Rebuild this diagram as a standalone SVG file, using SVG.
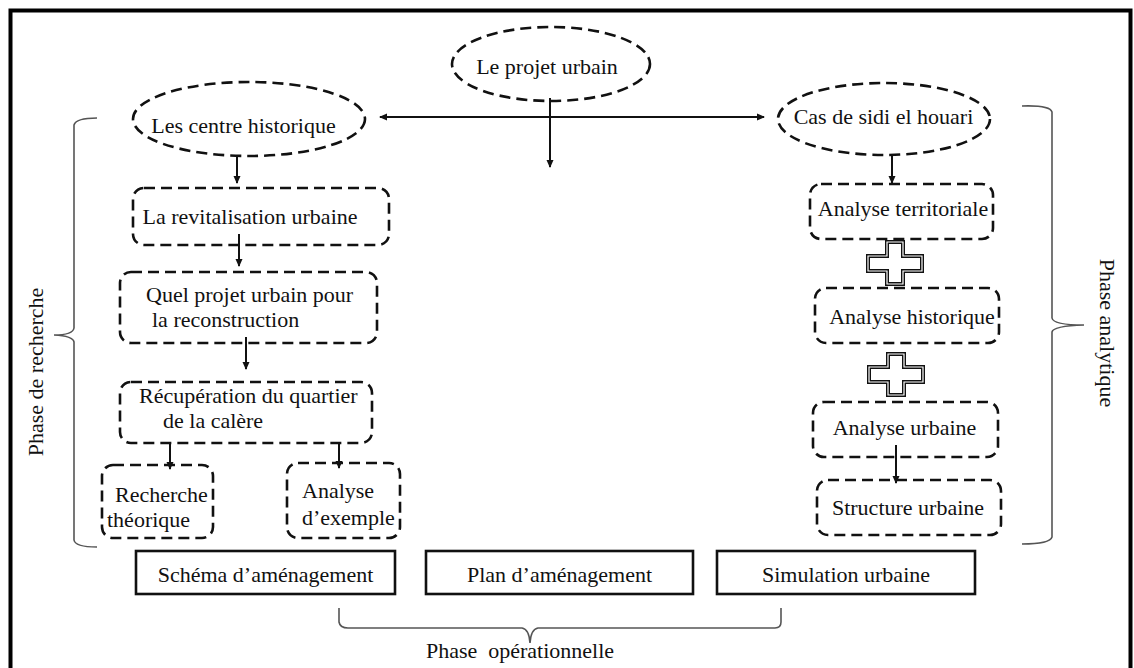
<svg xmlns="http://www.w3.org/2000/svg" width="1134" height="668" viewBox="0 0 1134 668">
<style>
text{font-family:"Liberation Serif","Times New Roman",serif;font-size:22px;fill:#111;}
.dash{fill:none;stroke:#111;stroke-width:2.6;stroke-dasharray:11 6;}
.box{fill:#fff;stroke:#111;stroke-width:2.6;}
.brace{fill:none;stroke:#555;stroke-width:1.6;}
.conn{fill:none;stroke:#111;stroke-width:2;}
.plusOut{fill:#fff;stroke:#111;stroke-width:4;}
.plusIn{fill:none;stroke:#fff;stroke-width:1.2;}
</style>
<defs>
<marker id="ah" markerWidth="8" markerHeight="8" refX="7" refY="4" orient="auto-start-reverse" markerUnits="userSpaceOnUse">
<path d="M0,0.5 L8,4 L0,7.5 Z" fill="#111"/>
</marker>
</defs>
<rect x="0" y="0" width="1134" height="668" fill="#fff"/>
<rect x="10.5" y="10.5" width="1120" height="700" fill="none" stroke="#000" stroke-width="4"/>

<g id="connectors">
<line class="conn" x1="380" y1="117" x2="764" y2="117" marker-start="url(#ah)" marker-end="url(#ah)"/>
<line class="conn" x1="550" y1="98" x2="550" y2="167" marker-end="url(#ah)"/>
<line class="conn" x1="237" y1="157" x2="237" y2="183" marker-end="url(#ah)"/>
<line class="conn" x1="239" y1="234" x2="239" y2="266" marker-end="url(#ah)"/>
<line class="conn" x1="246" y1="337" x2="246" y2="369" marker-end="url(#ah)"/>
<line class="conn" x1="170" y1="443" x2="170" y2="469" marker-end="url(#ah)"/>
<line class="conn" x1="339" y1="443" x2="339" y2="468" marker-end="url(#ah)"/>
<line class="conn" x1="892" y1="155" x2="892" y2="183" marker-end="url(#ah)"/>
<line class="conn" x1="896" y1="445" x2="896" y2="483" marker-end="url(#ah)"/>
</g>

<g id="n-projet">
<ellipse class="dash" cx="551" cy="64" rx="99" ry="37"/>
<text x="547" y="74" text-anchor="middle">Le projet urbain</text>
</g>
<g id="n-centre">
<ellipse class="dash" cx="249" cy="119" rx="116" ry="37"/>
<text x="243.5" y="133" text-anchor="middle">Les centre historique</text>
</g>
<g id="n-cas">
<ellipse class="dash" cx="884" cy="119" rx="106" ry="36"/>
<text x="883.5" y="124" text-anchor="middle">Cas de sidi el houari</text>
</g>

<g id="n-revit">
<rect class="dash" x="133" y="188" width="256" height="57" rx="11"/>
<text x="250" y="224" text-anchor="middle">La revitalisation urbaine</text>
</g>
<g id="n-quel">
<rect class="dash" x="120" y="272" width="257" height="71" rx="11"/>
<text x="146" y="302">Quel projet urbain pour</text>
<text x="152" y="327">la reconstruction</text>
</g>
<g id="n-recup">
<rect class="dash" x="120" y="382" width="252" height="61" rx="11"/>
<text x="139" y="403">Récupération du quartier</text>
<text x="163" y="428">de la calère</text>
</g>
<g id="n-recherche">
<rect class="dash" x="102" y="465" width="111" height="73" rx="11"/>
<text x="115" y="502">Recherche</text>
<text x="107" y="527">théorique</text>
</g>
<g id="n-exemple">
<rect class="dash" x="287" y="463" width="113" height="75" rx="11"/>
<text x="302" y="498">Analyse</text>
<text x="302" y="525">d’exemple</text>
</g>

<g id="n-territ">
<rect class="dash" x="810" y="184" width="183" height="55" rx="11"/>
<text x="903" y="216" text-anchor="middle">Analyse territoriale</text>
</g>
<g id="plus1">
<path class="plusOut" d="M887,242 H903 V256 H922 V271 H903 V284 H887 V271 H868 V256 H887 Z"/>
<path class="plusIn" d="M887,242 H903 V256 H922 V271 H903 V284 H887 V271 H868 V256 H887 Z"/>
</g>
<g id="n-hist">
<rect class="dash" x="815" y="288" width="184" height="55" rx="11"/>
<text x="912" y="324" text-anchor="middle">Analyse historique</text>
</g>
<g id="plus2">
<path class="plusOut" d="M888,354 H904 V367 H923 V382 H904 V395 H888 V382 H869 V367 H888 Z"/>
<path class="plusIn" d="M888,354 H904 V367 H923 V382 H904 V395 H888 V382 H869 V367 H888 Z"/>
</g>
<g id="n-urb">
<rect class="dash" x="813" y="402" width="185" height="55" rx="11"/>
<text x="904.5" y="435" text-anchor="middle">Analyse urbaine</text>
</g>
<g id="n-struct">
<rect class="dash" x="817" y="480" width="184" height="55" rx="11"/>
<text x="908" y="515" text-anchor="middle">Structure urbaine</text>
</g>

<g id="n-schema">
<rect class="box" x="136" y="551" width="259" height="43"/>
<text x="265.5" y="582" text-anchor="middle">Schéma d’aménagement</text>
</g>
<g id="n-plan">
<rect class="box" x="426" y="551" width="267" height="43"/>
<text x="559.5" y="582" text-anchor="middle">Plan d’aménagement</text>
</g>
<g id="n-sim">
<rect class="box" x="717" y="551" width="258" height="43"/>
<text x="846" y="582" text-anchor="middle">Simulation urbaine</text>
</g>

<g id="brace-recherche">
<path class="brace" d="M97,118 Q76,118 74,125 V328 Q73,335 54,335 Q73,336 74,342 V540 Q75,547 97,547"/>
<text transform="translate(43,372) rotate(-90)" text-anchor="middle">Phase de recherche</text>
</g>
<g id="brace-analytique">
<path class="brace" d="M1022,106 Q1050,105 1052,112 V318 Q1053,325 1084,325 Q1053,326 1052,332 V537 Q1050,544 1022,544"/>
<text transform="translate(1100,333) rotate(90)" text-anchor="middle">Phase analytique</text>
</g>
<g id="brace-operationnelle">
<path class="brace" d="M339,608 V622 Q340,628 348,628 H522 Q529,629 530,643 Q531,629 538,628 H775 Q781,628 781,622 V608"/>
<text x="520" y="658" text-anchor="middle" xml:space="preserve">Phase  opérationnelle</text>
</g>
</svg>
